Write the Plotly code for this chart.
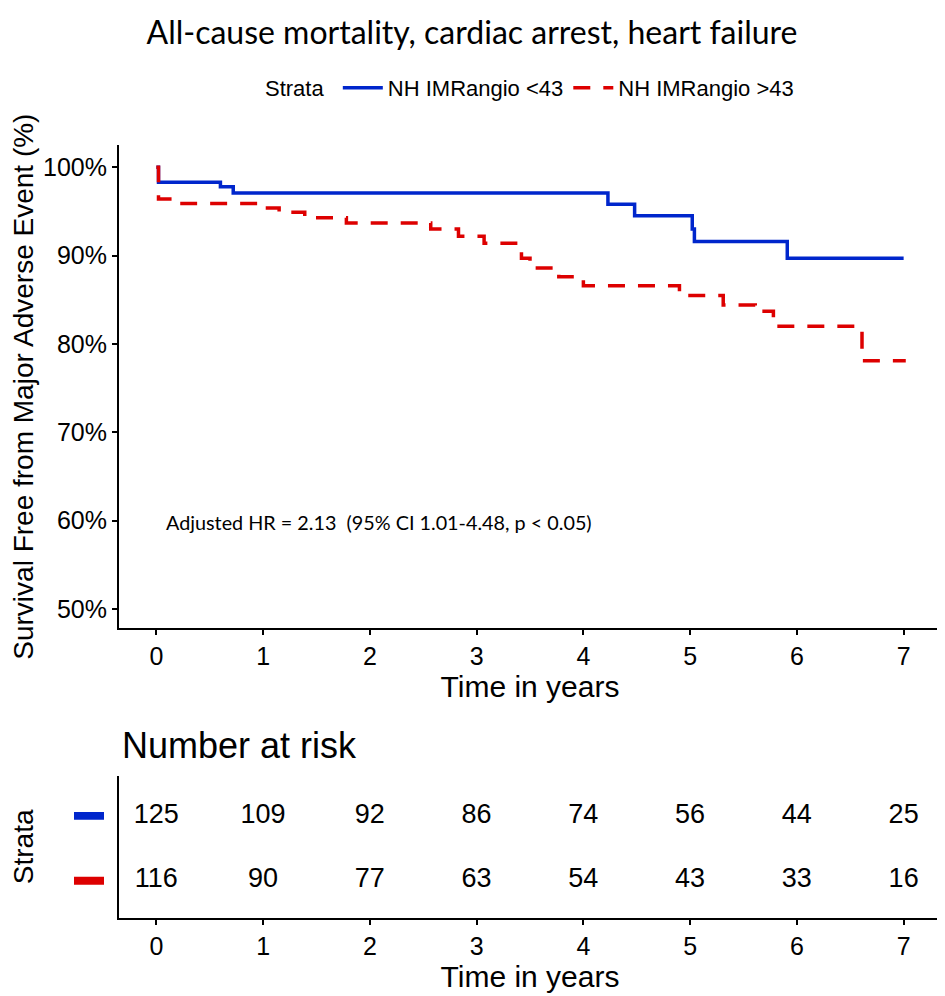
import plotly.graph_objects as go

# ---- data ----
strata_names = ["NH IMRangio <43", "NH IMRangio >43"]
blue_time = [0, 0.02, 0.60, 0.72, 4.23, 4.48, 5.02, 5.04, 5.91, 7.00]
blue_surv = [100, 98.3, 97.8, 97.1, 95.8, 94.5, 93.0, 91.6, 89.7, 89.7]
red_time = [0, 0.02, 0.24, 0.98, 1.15, 1.39, 1.78, 2.57, 2.83, 3.07, 3.42, 3.50,
            3.77, 4.00, 4.90, 5.31, 5.61, 5.78, 6.61, 7.02]
red_surv = [100, 96.4, 95.9, 95.4, 94.9, 94.3, 93.7, 93.0, 92.2, 91.4, 89.7, 88.6,
            87.6, 86.6, 85.5, 84.4, 83.7, 82.0, 78.1, 78.1]
risk_times = [0, 1, 2, 3, 4, 5, 6, 7]
risk_blue = [125, 109, 92, 86, 74, 56, 44, 25]
risk_red = [116, 90, 77, 63, 54, 43, 33, 16]
y_ticks = [50, 60, 70, 80, 90, 100]
y_tick_labels = ["50%", "60%", "70%", "80%", "90%", "100%"]

BLUE = "#0026CC"
RED = "#DD0000"
OFF = 8                      # page body margin of the browser
W, H = 945 - OFF, 996 - OFF
ARIAL = "Liberation Sans, Arial, sans-serif"
HUM = "Lato, Open Sans, sans-serif"

def fx(px):
    return (px - OFF) / W

def fy(py):
    return 1 - (py - OFF) / H

fig = go.Figure()
fig.add_trace(go.Scatter(x=blue_time, y=blue_surv, mode="lines", line_shape="hv",
                         line=dict(color=BLUE, width=3.5), name=strata_names[0],
                         xaxis="x", yaxis="y"))
fig.add_trace(go.Scatter(x=red_time, y=red_surv, mode="lines", line_shape="hv",
                         line=dict(color=RED, width=3.5, dash="17px,13px"), name=strata_names[1],
                         xaxis="x", yaxis="y"))

# risk table
fig.add_trace(go.Scatter(x=risk_times, y=[2] * len(risk_times), mode="text",
                         text=[str(v) for v in risk_blue], textfont=dict(size=27, family=ARIAL, color="black"),
                         showlegend=False, xaxis="x2", yaxis="y2", cliponaxis=False))
fig.add_trace(go.Scatter(x=risk_times, y=[1] * len(risk_times), mode="text",
                         text=[str(v) for v in risk_red], textfont=dict(size=27, family=ARIAL, color="black"),
                         showlegend=False, xaxis="x2", yaxis="y2", cliponaxis=False))

axis_common = dict(showline=True, linecolor="black", linewidth=2,
                   ticklen=5, tickwidth=1.5, tickcolor="black", showgrid=False, zeroline=False,
                   mirror=False)
xdom = [fx(119), fx(941)]

fig.update_layout(
    width=W, height=H,
    margin=dict(l=0, r=0, t=0, b=0),
    paper_bgcolor="white", plot_bgcolor="white",
    title=dict(text="All-cause mortality, cardiac arrest, heart failure",
               x=fx(472), xanchor="center", y=fy(33), yanchor="middle",
               font=dict(family=HUM, size=32, color="black")),
    showlegend=True,
    legend=dict(orientation="h", x=fx(531), xanchor="center", y=fy(88), yanchor="middle",
                title=dict(text="Strata ", font=dict(family=ARIAL, size=22, color="black")),
                font=dict(family=ARIAL, size=22, color="black"), itemwidth=40),
    xaxis=dict(domain=xdom, range=[-0.35, 7.35], tickvals=risk_times, ticks="outside",
               tickfont=dict(family=ARIAL, size=25, color="black"),
               title=dict(text="Time in years", font=dict(family=ARIAL, size=30, color="black"), standoff=4),
               anchor="y", **axis_common),
    yaxis=dict(domain=[fy(628.3), fy(145)], range=[47.82, 102.52], tickvals=y_ticks,
               ticktext=y_tick_labels, ticks="outside",
               tickfont=dict(family=ARIAL, size=25, color="black"),
               title=dict(text="Survival Free from Major Adverse Event (%)",
                          font=dict(family=ARIAL, size=28, color="black"), standoff=6),
               anchor="x", **axis_common),
    xaxis2=dict(domain=xdom, range=[-0.35, 7.35], tickvals=risk_times, ticks="outside",
                tickfont=dict(family=ARIAL, size=25, color="black"),
                title=dict(text="Time in years", font=dict(family=ARIAL, size=30, color="black"), standoff=4),
                anchor="y2", **axis_common),
    yaxis2=dict(domain=[fy(917.7), fy(776)], range=[0.43, 2.615], tickvals=[1, 2],
                showticklabels=False, ticks="",
                title=dict(text="Strata", font=dict(family=ARIAL, size=28, color="black"), standoff=84),
                anchor="x2", **axis_common),
)

# colored strata keys in the risk table
for yv, col in [(2, BLUE), (1, RED)]:
    fig.add_shape(type="rect", xref="paper", yref="y2", x0=fx(74), x1=fx(104),
                  y0=yv - 4 / 65, y1=yv + 4 / 65, fillcolor=col, line=dict(width=0))

fig.add_annotation(text="Adjusted HR = 2.13  (95% CI 1.01-4.48, p < 0.05)",
                   xref="paper", yref="paper", x=fx(164), y=fy(522), xanchor="left", yanchor="middle",
                   showarrow=False, font=dict(family=HUM, size=19.8, color="black"))
fig.add_annotation(text="Number at risk", xref="paper", yref="paper", x=fx(120), y=fy(745),
                   xanchor="left", yanchor="middle", showarrow=False,
                   font=dict(family=ARIAL, size=36, color="black"))

fig.write_html("out.html")
